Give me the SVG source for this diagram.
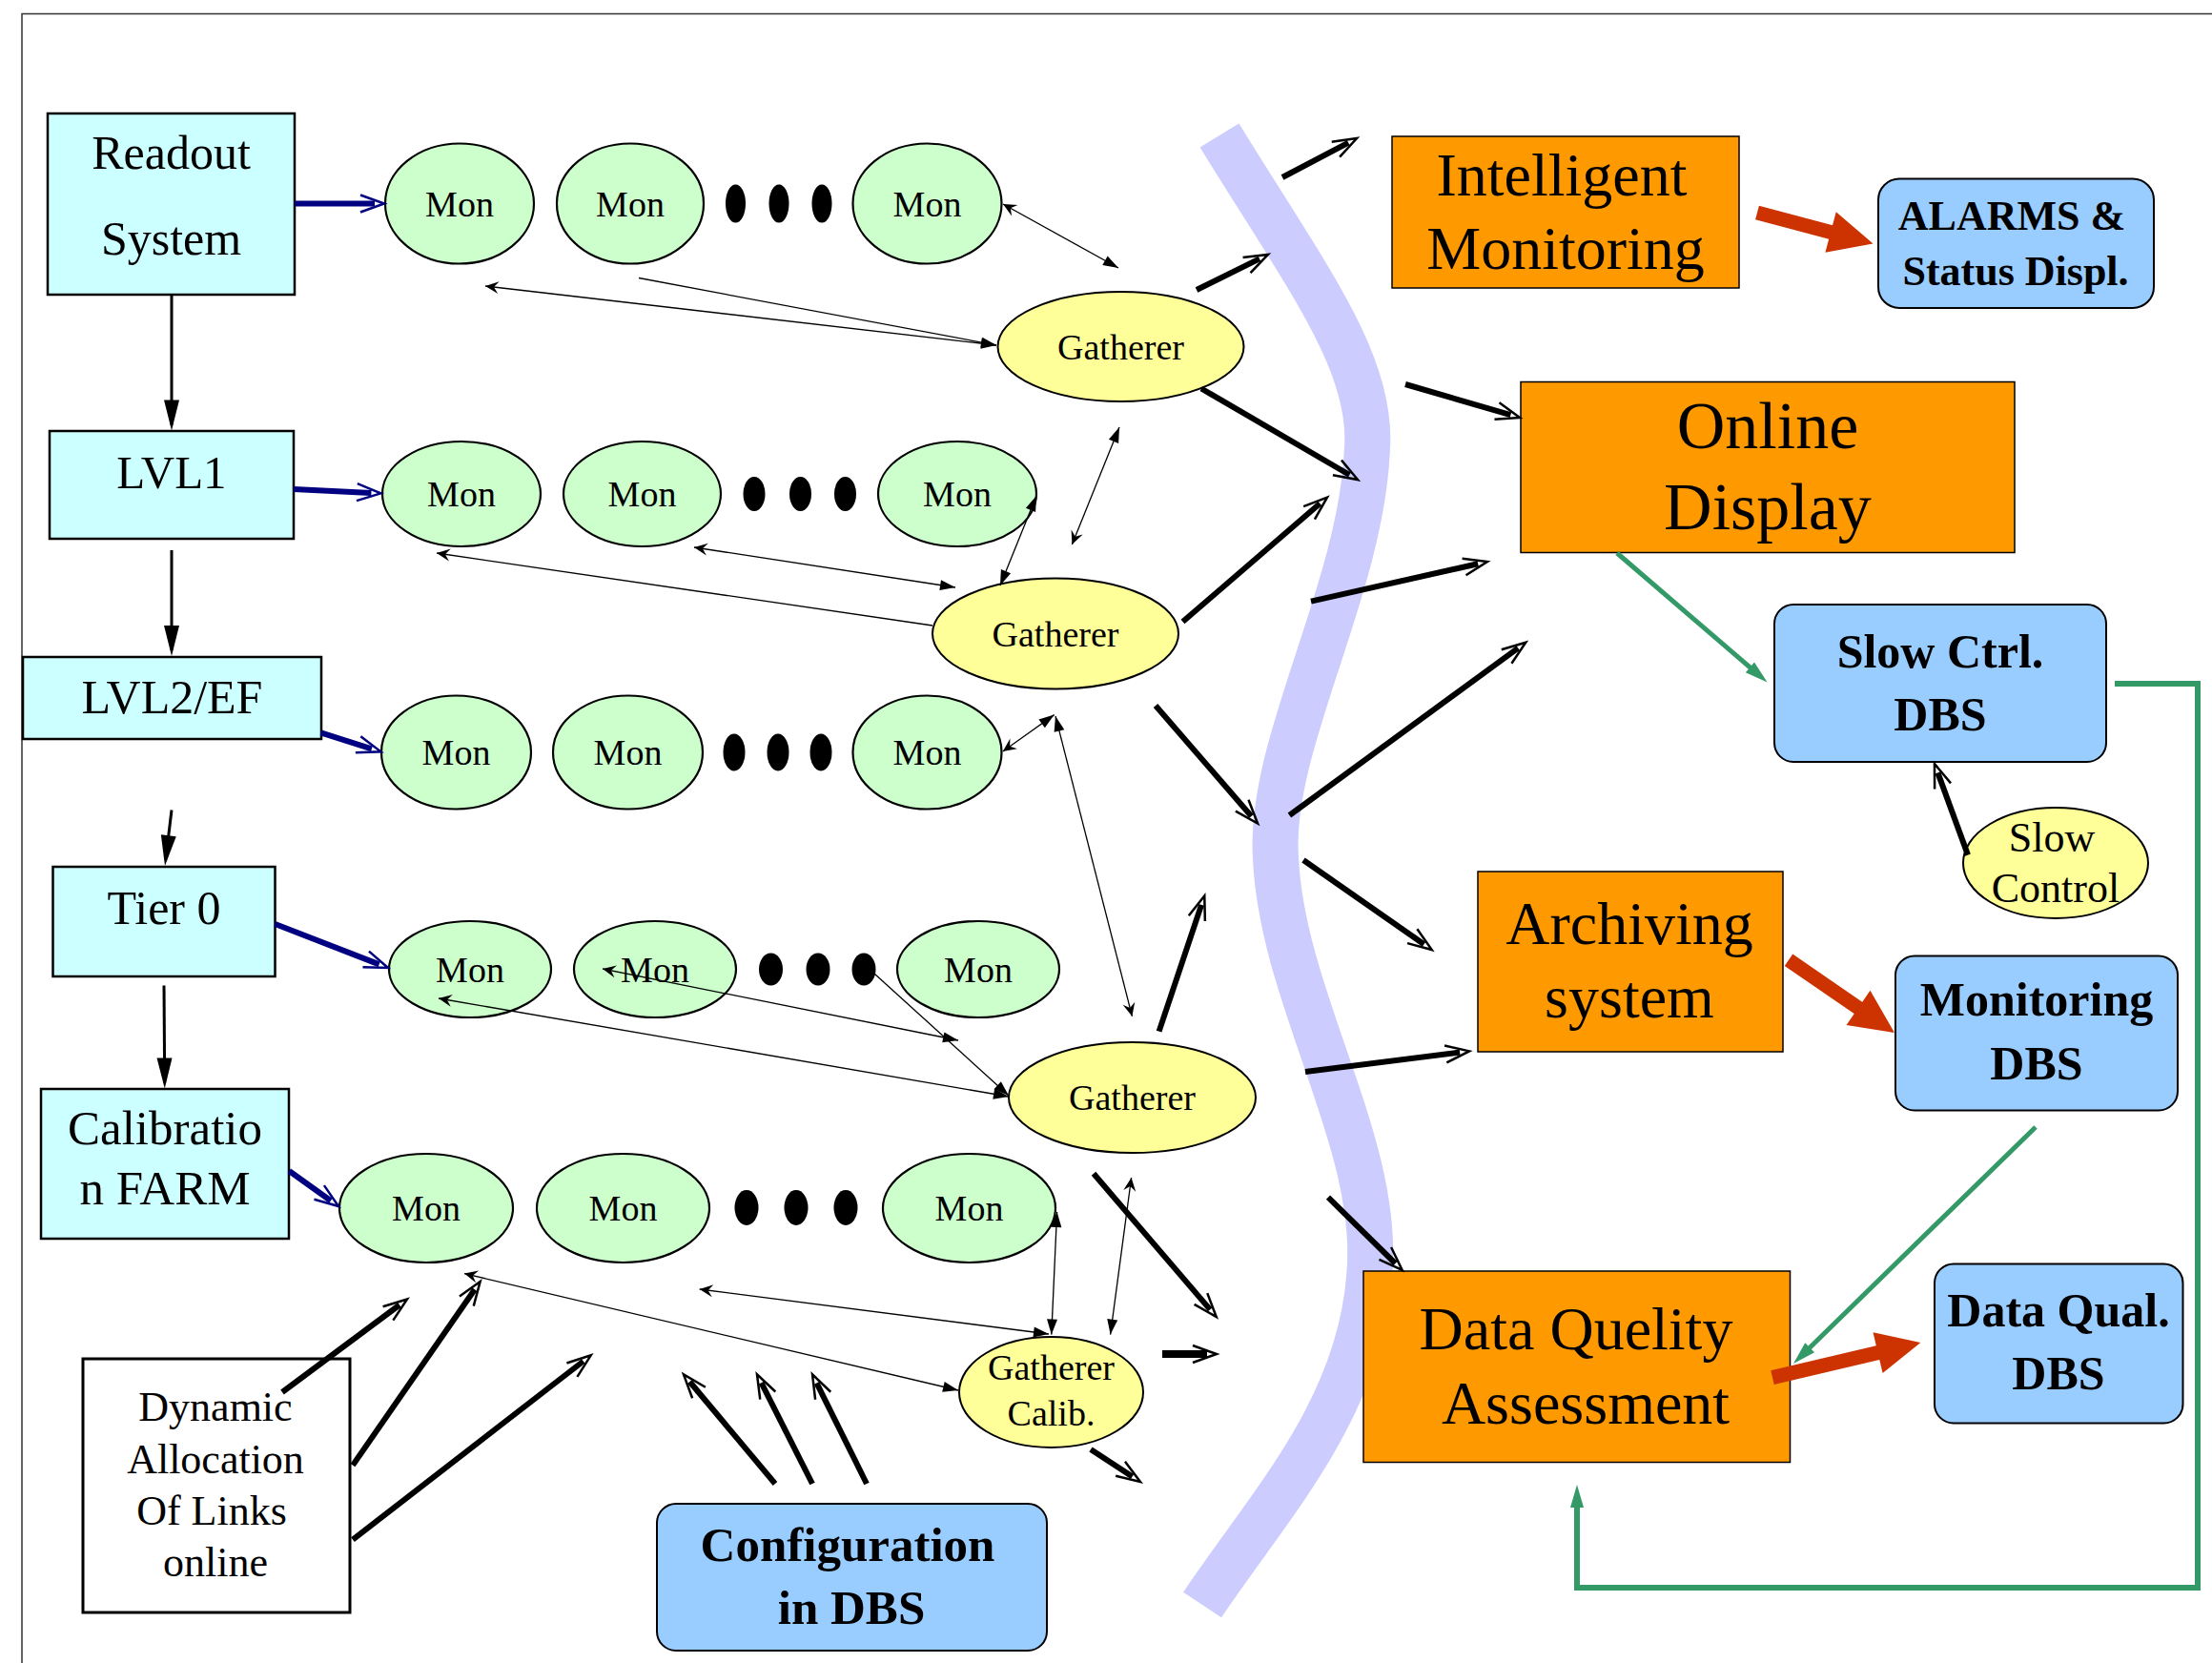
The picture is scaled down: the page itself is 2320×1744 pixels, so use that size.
<svg xmlns="http://www.w3.org/2000/svg" width="2320" height="1744" viewBox="0 0 2320 1744">
<style>
text{font-family:"Liberation Serif","Times New Roman",serif;text-anchor:middle;fill:#000}
.b{font-weight:bold}
.cy{fill:#ccffff;stroke:#000;stroke-width:2.5}
.org{fill:#ff9900;stroke:#000;stroke-width:1.5}
.blu{fill:#99ccff;stroke:#000;stroke-width:2}
.mon{fill:#ccffcc;stroke:#000;stroke-width:2.2}
.gat{fill:#ffff99;stroke:#000;stroke-width:2}
.dot{fill:#000}
.f38{font-size:38px}
.thk{stroke:#000;stroke-width:6;fill:none;marker-end:url(#hk)}
.nav{stroke:#000080;stroke-width:6;fill:none;marker-end:url(#hn)}
.vert{stroke:#000;stroke-width:3;fill:none;marker-end:url(#hv)}
.red{stroke:#cc3300;stroke-width:15;fill:none;marker-end:url(#hr)}
.grn{stroke:#339966;stroke-width:5;fill:none;marker-end:url(#hg)}
.thin{stroke:#000;stroke-width:1.3;fill:none}
</style>
<defs>
<marker id="hk" viewBox="-18 -13 36 26" markerWidth="36" markerHeight="26" refX="0" refY="0" orient="auto" markerUnits="userSpaceOnUse"><path d="M-15,-9 L10,0 L-15,9" fill="none" stroke="#000" stroke-width="2.5"/></marker>
<marker id="hn" viewBox="-18 -13 36 26" markerWidth="36" markerHeight="26" refX="0" refY="0" orient="auto" markerUnits="userSpaceOnUse"><path d="M-15,-9 L10,0 L-15,9" fill="none" stroke="#000080" stroke-width="2.5"/></marker>
<marker id="hv" viewBox="-28 -10 36 20" markerWidth="36" markerHeight="20" refX="0" refY="0" orient="auto" markerUnits="userSpaceOnUse"><path d="M6,0 L-26,-8 L-26,8 Z" fill="#000"/></marker>
<marker id="hr" viewBox="-4 -24 50 48" markerWidth="50" markerHeight="48" refX="0" refY="0" orient="auto" markerUnits="userSpaceOnUse"><path d="M-2,-22 L44,0 L-2,22 Z" fill="#cc3300"/></marker>
<marker id="hg" viewBox="-12 -8 28 16" markerWidth="28" markerHeight="16" refX="0" refY="0" orient="auto" markerUnits="userSpaceOnUse"><path d="M14,0 L-10,-7 L-10,7 Z" fill="#339966"/></marker>
<marker id="tf" viewBox="-18 -7 20 14" markerWidth="20" markerHeight="14" refX="0" refY="0" orient="auto-start-reverse" markerUnits="userSpaceOnUse"><path d="M0,0 L-16,-5.5 L-16,5.5 Z" fill="#000"/></marker>
<marker id="to" viewBox="-16 -8 18 16" markerWidth="18" markerHeight="16" refX="0" refY="0" orient="auto-start-reverse" markerUnits="userSpaceOnUse"><path d="M0,0 L-14,-6.5 L-9,0 L-14,6.5 Z" fill="#000"/></marker>
</defs>
<rect width="2320" height="1744" fill="#fff"/>
<path d="M23,1744 V14.5 H2320" fill="none" stroke="#333" stroke-width="1.5"/>
<path id="band" d="M1279,142 C1370,290 1440,380 1434,470 C1428,620 1330,780 1338,900 C1345,1050 1450,1200 1436,1340 C1425,1480 1330,1580 1261,1683" fill="none" stroke="#ccccff" stroke-width="48"/>

<g id="readout"><rect class="cy" x="50" y="119" width="259" height="190"/><text x="179.5" y="177" font-size="50">Readout</text><text x="179.5" y="267" font-size="50">System</text></g>
<g id="lvl1"><rect class="cy" x="52" y="452" width="256" height="113"/><text x="180" y="512" font-size="49">LVL1</text></g>
<g id="lvl2ef"><rect class="cy" x="24" y="689" width="313" height="86"/><text x="180.5" y="748" font-size="50">LVL2/EF</text></g>
<g id="tier0"><rect class="cy" x="55.5" y="909" width="233" height="115"/><text x="172" y="969" font-size="50">Tier 0</text></g>
<g id="calib"><rect class="cy" x="43" y="1142" width="260" height="157"/><text x="173" y="1200" font-size="51">Calibratio</text><text x="173" y="1263" font-size="51">n FARM</text></g>
<g id="dynamic"><rect x="87" y="1425" width="280" height="266" fill="#fff" stroke="#000" stroke-width="3"/><text x="226" y="1490" font-size="44">Dynamic</text><text x="226" y="1545" font-size="44">Allocation</text><text x="222" y="1599" font-size="44">Of Links</text><text x="226" y="1653" font-size="44">online</text></g>
<g id="config"><rect class="blu" x="689" y="1577" width="409" height="154" rx="20"/><text class="b" x="889" y="1637" font-size="51">Configuration</text><text class="b" x="893" y="1703" font-size="51">in DBS</text></g>

<g id="row1">
<g id="mon1a"><ellipse class="mon" cx="482" cy="213.5" rx="78" ry="63"/><text class="f38" x="482" y="226.5">Mon</text></g>
<g id="mon1b"><ellipse class="mon" cx="661" cy="213.5" rx="77" ry="63"/><text class="f38" x="661" y="226.5">Mon</text></g>
<g id="dots1"><ellipse class="dot" cx="771.5" cy="213.5" rx="10.5" ry="20"/><ellipse class="dot" cx="817" cy="213.5" rx="10.5" ry="20"/><ellipse class="dot" cx="862" cy="213.5" rx="10.5" ry="20"/></g>
<g id="mon1c"><ellipse class="mon" cx="972.5" cy="213.5" rx="78" ry="63"/><text class="f38" x="972.5" y="226.5">Mon</text></g>
</g>
<g id="row2">
<g id="mon2a"><ellipse class="mon" cx="484" cy="518" rx="83" ry="55"/><text class="f38" x="484" y="531">Mon</text></g>
<g id="mon2b"><ellipse class="mon" cx="673.5" cy="518" rx="82.5" ry="55"/><text class="f38" x="673.5" y="531">Mon</text></g>
<g id="dots2"><ellipse class="dot" cx="791" cy="518" rx="11.5" ry="18"/><ellipse class="dot" cx="839.5" cy="518" rx="11.5" ry="18"/><ellipse class="dot" cx="886.5" cy="518" rx="11.5" ry="18"/></g>
<g id="mon2c"><ellipse class="mon" cx="1004" cy="518" rx="83" ry="55"/><text class="f38" x="1004" y="531">Mon</text></g>
</g>
<g id="row3">
<g id="mon3a"><ellipse class="mon" cx="478.5" cy="789" rx="78.5" ry="59.5"/><text class="f38" x="478.5" y="802">Mon</text></g>
<g id="mon3b"><ellipse class="mon" cx="658.5" cy="789" rx="78.5" ry="59.5"/><text class="f38" x="658.5" y="802">Mon</text></g>
<g id="dots3"><ellipse class="dot" cx="770" cy="789" rx="11.5" ry="19.5"/><ellipse class="dot" cx="816" cy="789" rx="11.5" ry="19.5"/><ellipse class="dot" cx="861" cy="789" rx="11.5" ry="19.5"/></g>
<g id="mon3c"><ellipse class="mon" cx="972.5" cy="789" rx="78" ry="59.5"/><text class="f38" x="972.5" y="802">Mon</text></g>
</g>
<g id="row4">
<g id="mon4a"><ellipse class="mon" cx="493" cy="1016.5" rx="85" ry="50.5"/><text class="f38" x="493" y="1029.5">Mon</text></g>
<g id="mon4b"><ellipse class="mon" cx="687" cy="1016.5" rx="85" ry="50.5"/><text class="f38" x="687" y="1029.5">Mon</text></g>
<g id="dots4"><ellipse class="dot" cx="808.5" cy="1016.5" rx="12.5" ry="17"/><ellipse class="dot" cx="858" cy="1016.5" rx="12.5" ry="17"/><ellipse class="dot" cx="906" cy="1016.5" rx="12.5" ry="17"/></g>
<g id="mon4c"><ellipse class="mon" cx="1026" cy="1016.5" rx="85" ry="50.5"/><text class="f38" x="1026" y="1029.5">Mon</text></g>
</g>
<g id="row5">
<g id="mon5a"><ellipse class="mon" cx="447" cy="1267" rx="91" ry="57"/><text class="f38" x="447" y="1280">Mon</text></g>
<g id="mon5b"><ellipse class="mon" cx="653.5" cy="1267" rx="90.5" ry="57"/><text class="f38" x="653.5" y="1280">Mon</text></g>
<g id="dots5"><ellipse class="dot" cx="783" cy="1266.5" rx="12.5" ry="18.5"/><ellipse class="dot" cx="835" cy="1266.5" rx="12.5" ry="18.5"/><ellipse class="dot" cx="887" cy="1266.5" rx="12.5" ry="18.5"/></g>
<g id="mon5c"><ellipse class="mon" cx="1016.5" cy="1267" rx="90.5" ry="57"/><text class="f38" x="1016.5" y="1280">Mon</text></g>
</g>

<g id="gatherer1"><ellipse class="gat" cx="1175.5" cy="363.5" rx="129" ry="57.5"/><text class="f38" x="1175.5" y="376.5">Gatherer</text></g>
<g id="gatherer2"><ellipse class="gat" cx="1107" cy="664.5" rx="129" ry="58"/><text class="f38" x="1107" y="677.5">Gatherer</text></g>
<g id="gatherer3"><ellipse class="gat" cx="1187.5" cy="1151" rx="129.5" ry="58"/><text class="f38" x="1187.5" y="1164">Gatherer</text></g>
<g id="gathererCalib"><ellipse class="gat" cx="1102.5" cy="1460" rx="96.5" ry="58"/><text class="f38" x="1102.5" y="1447">Gatherer</text><text class="f38" x="1102.5" y="1495">Calib.</text></g>

<g id="intelligent"><rect class="org" x="1460" y="143" width="364" height="159"/><text x="1638" y="205" font-size="64">Intelligent</text><text x="1642" y="282" font-size="64">Monitoring</text></g>
<g id="alarms"><rect class="blu" x="1970" y="187.5" width="289" height="135.5" rx="22"/><text class="b" x="2110" y="241" font-size="44">ALARMS &amp;</text><text class="b" x="2114" y="299" font-size="44">Status Displ.</text></g>
<g id="online"><rect class="org" x="1595" y="400.5" width="518" height="179"/><text x="1854" y="470" font-size="70">Online</text><text x="1854" y="555" font-size="70">Display</text></g>
<g id="slowctrl"><rect class="blu" x="1861" y="634" width="348" height="165" rx="20"/><text class="b" x="2035" y="700" font-size="50">Slow Ctrl.</text><text class="b" x="2035" y="766" font-size="50">DBS</text></g>
<g id="slowcontrol"><ellipse class="gat" cx="2156" cy="905" rx="97" ry="58"/><text x="2152" y="893" font-size="44">Slow</text><text x="2156" y="946" font-size="44">Control</text></g>
<g id="archiving"><rect class="org" x="1550" y="914" width="320" height="189"/><text x="1709" y="990" font-size="64">Archiving</text><text x="1709" y="1067" font-size="64">system</text></g>
<g id="monitoringdbs"><rect class="blu" x="1988" y="1002.5" width="296" height="162" rx="20"/><text class="b" x="2136" y="1065" font-size="50">Monitoring</text><text class="b" x="2136" y="1132" font-size="50">DBS</text></g>
<g id="dqa"><rect class="org" x="1430" y="1333" width="447.5" height="200.5"/><text x="1653" y="1415" font-size="64">Data Quelity</text><text x="1663" y="1493" font-size="64">Assessment</text></g>
<g id="dataqual"><rect class="blu" x="2029" y="1325.5" width="260.5" height="167" rx="20"/><text class="b" x="2159" y="1391" font-size="50">Data Qual.</text><text class="b" x="2159" y="1457" font-size="50">DBS</text></g>

<g id="connectors">
<line class="vert" x1="180" y1="309" x2="180" y2="445.6"/>
<line class="vert" x1="180" y1="577" x2="180" y2="682"/>
<line class="vert" x1="180" y1="849.5" x2="173.7" y2="902"/>
<line class="vert" x1="172" y1="1033.6" x2="172.7" y2="1135.5"/>

<line class="nav" x1="309" y1="213.5" x2="393" y2="213.5"/>
<line class="nav" x1="308" y1="513" x2="389.4" y2="516.9"/>
<line class="nav" x1="336.5" y1="768.4" x2="389.9" y2="785.3"/>
<line class="nav" x1="288.5" y1="969" x2="397.7" y2="1011.4"/>
<line class="nav" x1="303.3" y1="1228" x2="346.9" y2="1259.2"/>

<line class="thin" x1="1052" y1="214" x2="1173" y2="281" marker-start="url(#to)" marker-end="url(#tf)"/>
<line class="thin" x1="509" y1="300" x2="1045" y2="362" marker-start="url(#to)" marker-end="url(#tf)"/>
<line class="thin" x1="670" y1="291.5" x2="1045" y2="362" marker-end="url(#tf)"/>
<line class="thin" x1="458" y1="580" x2="978" y2="656" marker-start="url(#to)"/>
<line class="thin" x1="728" y1="574" x2="1002" y2="616" marker-start="url(#to)" marker-end="url(#tf)"/>
<line class="thin" x1="1087" y1="520" x2="1049" y2="614" marker-start="url(#tf)" marker-end="url(#tf)"/>
<line class="thin" x1="1124.4" y1="571" x2="1174" y2="448" marker-start="url(#to)" marker-end="url(#tf)"/>
<line class="thin" x1="1051.8" y1="788" x2="1105.7" y2="749.6" marker-start="url(#to)" marker-end="url(#tf)"/>
<line class="thin" x1="1187.4" y1="1065.8" x2="1107" y2="751" marker-start="url(#to)" marker-end="url(#tf)"/>
<line class="thin" x1="632" y1="1016" x2="1005" y2="1091" marker-start="url(#to)" marker-end="url(#tf)"/>
<line class="thin" x1="917" y1="1021" x2="1058" y2="1149" marker-end="url(#tf)"/>
<line class="thin" x1="460" y1="1047" x2="1058" y2="1150" marker-start="url(#to)" marker-end="url(#tf)"/>
<line class="thin" x1="487" y1="1335.6" x2="1005" y2="1458" marker-start="url(#to)" marker-end="url(#tf)"/>
<line class="thin" x1="733.7" y1="1352" x2="1100" y2="1399" marker-start="url(#to)" marker-end="url(#tf)"/>
<line class="thin" x1="1108.6" y1="1271" x2="1102.8" y2="1399.6" marker-start="url(#tf)" marker-end="url(#tf)"/>
<line class="thin" x1="1186.6" y1="1235" x2="1164.6" y2="1399.6" marker-start="url(#to)" marker-end="url(#tf)"/>

<line class="thk" x1="1345" y1="186" x2="1414.2" y2="149.7"/>
<line class="thk" x1="1255" y1="304" x2="1321" y2="271.4"/>
<line class="thk" x1="1474" y1="403" x2="1584.4" y2="435.2"/>
<line class="thk" x1="1260" y1="407.5" x2="1415.4" y2="498"/>
<line class="thk" x1="1240.5" y1="652" x2="1384.4" y2="528.1"/>
<line class="thk" x1="1375" y1="630.6" x2="1550.2" y2="591.2"/>
<line class="thk" x1="1212" y1="740" x2="1312.5" y2="856"/>
<line class="thk" x1="1352.4" y1="855" x2="1592.2" y2="679.6"/>
<line class="thk" x1="1367" y1="902" x2="1493.5" y2="990.3"/>
<line class="thk" x1="1215.6" y1="1081.6" x2="1260.1" y2="948.9"/>
<line class="thk" x1="1369" y1="1124" x2="1531.1" y2="1103.6"/>
<line class="thk" x1="1147" y1="1230.8" x2="1269.2" y2="1373.4"/>
<line class="thk" x1="1393" y1="1255.7" x2="1463.5" y2="1325"/>
<line class="thk" x1="1219" y1="1420" x2="1266" y2="1420" style="stroke-width:8"/>
<line class="thk" x1="1144" y1="1520" x2="1187.6" y2="1548.5"/>
<line class="thk" x1="2064" y1="896.6" x2="2032.4" y2="810.4"/>
<line class="thk" x1="296" y1="1460" x2="419" y2="1368.5"/>
<line class="thk" x1="370" y1="1536.6" x2="497.9" y2="1352.2"/>
<line class="thk" x1="370" y1="1614.6" x2="611.8" y2="1427.5"/>
<line class="thk" x1="813" y1="1556" x2="723.4" y2="1449"/>
<line class="thk" x1="852" y1="1556" x2="798.5" y2="1450.2"/>
<line class="thk" x1="909" y1="1556" x2="856.5" y2="1450.3"/>

<line class="red" x1="1843" y1="223" x2="1922" y2="244.1"/>
<line class="red" x1="1876" y1="1006.8" x2="1950.7" y2="1058.1"/>
<line class="red" x1="1859" y1="1444.6" x2="1971.5" y2="1418.1"/>

<line class="grn" x1="1696" y1="580" x2="1843" y2="706.4"/>
<line class="grn" x1="2135" y1="1182" x2="1891" y2="1420.2"/>
<path class="grn" d="M2218,717 H2305 V1665 H1654 V1571" style="stroke-width:6"/>
</g>
</svg>
